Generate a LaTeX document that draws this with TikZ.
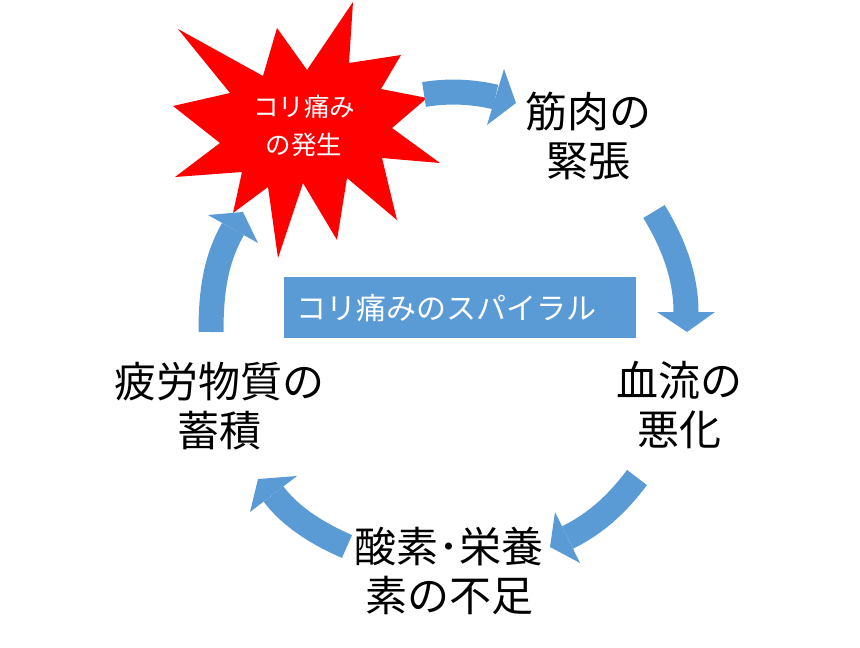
\documentclass[tikz,border=0pt]{standalone}
\usepackage{fontspec}
\newfontfamily\jp{Noto Sans CJK JP}
\definecolor{arrowblue}{HTML}{5B9BD5}
\definecolor{starred}{HTML}{FF0000}
\tikzset{
  bodyline/.style={draw=arrowblue, line width=25pt, line cap=butt},
  headtri/.style={fill=arrowblue, draw=none},
  maintext/.style={font=\jp\fontsize{42}{49}\selectfont, align=center, text=black, inner sep=0pt},
  startext/.style={font=\jp\fontsize{25.5}{38}\selectfont, align=center, text=white, inner sep=0pt},
  titlebox/.style={fill=arrowblue, anchor=north west, inner sep=0pt, minimum width=352pt, minimum height=61pt},
  titletext/.style={text=white, font=\jp\fontsize{30}{34}\selectfont, anchor=west, inner sep=0pt}
}
\begin{document}
\begin{tikzpicture}[x=1pt,y=-1pt]
\useasboundingbox (0,0) rectangle (860,648);
% star
\fill[starred] (178,29) -- (263,76) -- (277,28) -- (307,70) -- (353,2) -- (349,63)
  -- (401,55) -- (381,89) -- (427,98) -- (392,128) -- (440,163) -- (382,158)
  -- (397,220) -- (347,178) -- (337,240) -- (303,183) -- (278,258) -- (268,187)
  -- (233,213) -- (242,172) -- (175,177) -- (220,143) -- (173,106) -- (230,93) -- cycle;
\node[startext] (star) at (304,126) {コリ痛み\\の発生};
% labels
\node[maintext] (kin) at (588,136) {筋肉の\\緊張};
\node[maintext] (ket) at (679,405) {血流の\\悪化};
\node[maintext] (san) at (449,571) {酸素･栄養\\素の不足};
\node[maintext] (hir) at (219,406) {疲労物質の\\蓄積};
\node[titlebox] (title) at (284,277) {};
\node[titletext] (titlet) at ([xshift=12pt]title.west) {コリ痛みのスパイラル};
% arrow coordinates
\coordinate (a1s) at (424,94.5);
\coordinate (a1e) at (495.5,97);
\coordinate (a2s) at (654,211.5);
\coordinate (a2e) at (686,312);
\coordinate (a3s) at (637,477.5);
\coordinate (a3e) at (567.5,537.5);
\coordinate (a4s) at (347,546.5);
\coordinate (a4e) at (273.5,494);
\coordinate (a5s) at (211,332);
\coordinate (a5e) at (233,229);
% arrow 1: star -> kin
\draw[bodyline] (a1s) .. controls (448,90.5) and (472,91.5) .. (a1e);
\fill[headtri] (504,69) -- (516,103) -- (487,125) -- cycle;
% arrow 2: kin -> ket
\draw[bodyline] (a2s) .. controls (672,241) and (686,275) .. (a2e);
\fill[headtri] (657,312) -- (687,332) -- (715,312) -- cycle;
% arrow 3: ket -> san
\draw[bodyline] (a3s) .. controls (619,501.5) and (598,522.5) .. (a3e);
\fill[headtri] (555,512) -- (550,547) -- (580,563) -- cycle;
% arrow 4: san -> hir
\draw[bodyline] (a4s) .. controls (324,536.5) and (293,520) .. (a4e);
\fill[headtri] (297,476) -- (258,479) -- (250,512) -- cycle;
% arrow 5: hir -> star
\draw[bodyline] (a5s) .. controls (211,290) and (216,259) .. (a5e);
\fill[headtri] (208,215) -- (243,212) -- (258,243) -- cycle;
\end{tikzpicture}
\end{document}
